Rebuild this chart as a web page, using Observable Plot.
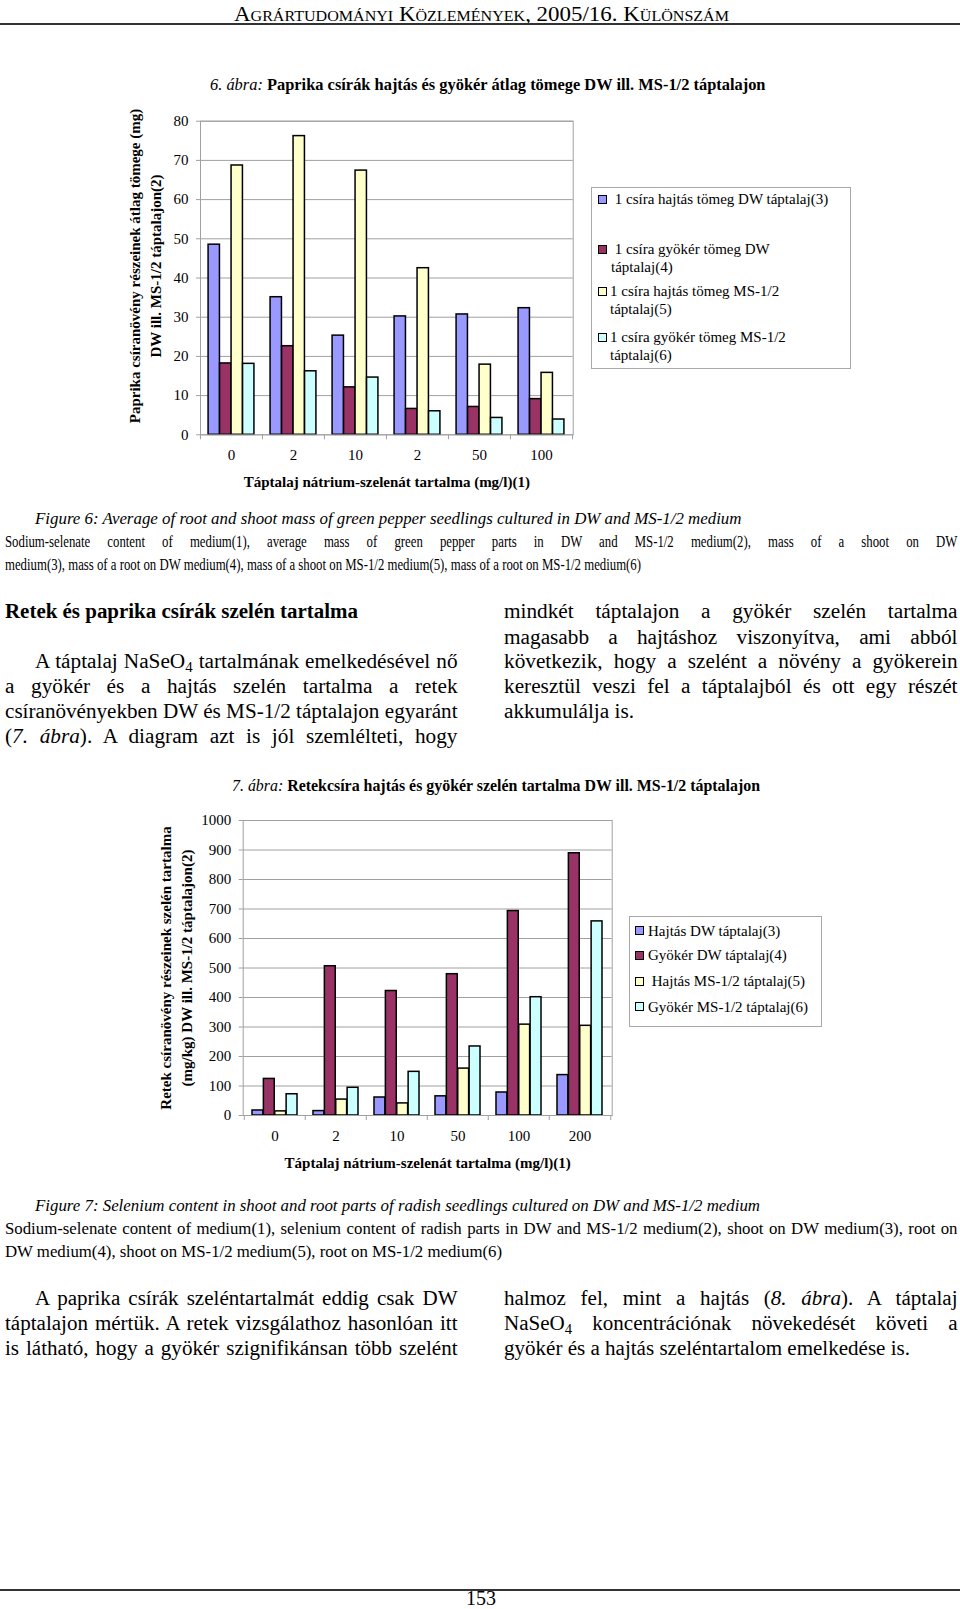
<!DOCTYPE html>
<html><head><meta charset="utf-8">
<script src="https://cdn.jsdelivr.net/npm/d3@7"></script>
<script src="https://cdn.jsdelivr.net/npm/@observablehq/plot@0.6"></script>
<style>
html,body{margin:0;padding:0;background:#fff;}
#page{position:relative;width:960px;height:1609px;overflow:hidden;background:#fff;font-family:"Liberation Serif","Times New Roman",serif;color:#000;}
.ln{position:absolute;white-space:nowrap;transform-origin:0 50%;}
.ln sub{font-size:0.7em;vertical-align:-0.25em;line-height:0;}
.rule{position:absolute;left:0;width:960px;background:#333;}
.legend{position:absolute;border:1px solid #a8a8a8;background:#fff;box-sizing:border-box;}
.sw{position:absolute;box-sizing:border-box;border:1.5px solid #000;}
.chart{position:absolute;}
</style></head><body><div id="page"></div>
<script>
// ---------- data ----------
const seriesColors = ["#9999ff", "#993366", "#ffffcc", "#ccffff"];

// Figure 6 (paprika, mg)
const cats6 = ["0", "2", "10", "2", "50", "100"];
const shootDW6 = [48.5, 35.1, 25.3, 30.2, 30.7, 32.3];
const rootDW6 = [18.2, 22.6, 12.1, 6.6, 7.1, 9.1];
const shootMS6 = [68.7, 76.2, 67.4, 42.5, 17.9, 15.8];
const rootMS6 = [18.1, 16.2, 14.6, 6.0, 4.3, 3.9];
const yTicks6 = [0, 10, 20, 30, 40, 50, 60, 70, 80];
const legend6 = [
  ["\u00a01 csíra hajtás tömeg DW táptalaj(3)"],
  ["\u00a01 csíra gyökér tömeg DW", "táptalaj(4)"],
  ["1 csíra hajtás tömeg MS-1/2", "táptalaj(5)"],
  ["1 csíra gyökér tömeg MS-1/2", "táptalaj(6)"]
];
const yTitle6 = ["Paprika csíranövény részeinek átlag tömege (mg)", "DW ill. MS-1/2 táptalajon(2)"];

// Figure 7 (retek, mg/kg)
const cats7 = ["0", "2", "10", "50", "100", "200"];
const shootDW7 = [17, 15, 61, 65, 78, 137];
const rootDW7 = [124, 506, 422, 479, 693, 889];
const shootMS7 = [14, 54, 41, 159, 308, 304];
const rootMS7 = [72, 94, 148, 234, 401, 658];
const yTicks7 = [0, 100, 200, 300, 400, 500, 600, 700, 800, 900, 1000];
const legend7 = [
  ["Hajtás DW táptalaj(3)"],
  ["Gyökér DW táptalaj(4)"],
  ["\u00a0Hajtás MS-1/2 táptalaj(5)"],
  ["Gyökér MS-1/2 táptalaj(6)"]
];
const yTitle7 = ["Retek csíranövény részeinek szelén tartalma", "(mg/kg) DW ill. MS-1/2 táptalajon(2)"];

const xTitle = "Táptalaj nátrium-szelenát tartalma (mg/l)(1)";

// ---------- helpers ----------
const page = document.getElementById("page");
function line(html, x0, x1, yc, opt = {}) {
  const fs = opt.size || 20;
  const lh = Math.round(fs * 1.2);
  const d = document.createElement("div");
  d.className = "ln";
  d.style.fontSize = fs + "px";
  d.style.lineHeight = lh + "px";
  if (opt.bold) d.style.fontWeight = "bold";
  if (opt.italic) d.style.fontStyle = "italic";
  if (opt.sc) d.style.fontVariant = "small-caps";
  d.innerHTML = html;
  page.appendChild(d);
  const w = d.getBoundingClientRect().width;
  let s = 1, left = x0;
  if (x1 != null) {
    const target = x1 - x0;
    if (opt.justify) {
      s = Math.min(opt.s || 1, target / w);
      d.style.whiteSpace = "normal";
      d.style.width = (target / s + 0.5) + "px";
      d.style.textAlign = "justify";
      d.style.textAlignLast = "justify";
    } else {
      s = target / w;
    }
  } else if (opt.center) {
    left = x0 - w / 2;
  }
  d.style.left = left + "px";
  d.style.top = (yc - lh / 2) + "px";
  d.style.transform = `scaleX(${s})`;
  return s;
}
function rule(y, h) {
  const r = document.createElement("div");
  r.className = "rule";
  r.style.top = y + "px";
  r.style.height = h + "px";
  page.appendChild(r);
}

function groupedBars({cats, values, yTicks, left, top, width, height, ml, mr, mt, mb, yTitle, titleDx, titleDy}) {
  const idx = d3.range(cats.length);
  const step = (width - ml - mr) / cats.length;
  const bw = step * 0.185;
  const marks = [Plot.gridY(yTicks, {stroke: "#a0a0a0", strokeOpacity: 1})];
  values.forEach((vals, i) => {
    const insetLeft = step / 2 + (i - values.length / 2) * bw;
    marks.push(Plot.barY(idx, {
      x: d => d, y: d => vals[d], fill: seriesColors[i],
      stroke: "#000", strokeWidth: 1.5,
      insetLeft, insetRight: step - insetLeft - bw
    }));
  });
  marks.push(
    Plot.frame({stroke: "#a0a0a0"}),
    Plot.axisY(yTicks, {tickSize: 4, tickPadding: 8, stroke: "#a0a0a0", fill: "#000", fontSize: 15, label: null, tickFormat: d => String(d)}),
    Plot.axisX(idx, {tickSize: 0, tickPadding: 15, tickFormat: i => cats[i], fill: "#000", fontSize: 15, label: null}),
    Plot.axisX(idx, {tickSize: 5, tickPadding: 0, tickFormat: () => "", dx: -step / 2, stroke: "#a0a0a0", label: null}),
    Plot.axisX([idx[idx.length - 1]], {tickSize: 5, tickPadding: 0, tickFormat: () => "", dx: step / 2, stroke: "#a0a0a0", label: null}),
    Plot.text([yTitle.join("\n")], {text: d => d, frameAnchor: "left", textAnchor: "middle", lineAnchor: "middle", dx: titleDx, dy: titleDy || 0, rotate: -90, fontWeight: "bold", fontSize: 15, lineHeight: 1.43}),
    Plot.text([xTitle], {text: d => d, frameAnchor: "bottom", dy: 52, fontWeight: "bold", fontSize: 15})
  );
  const svg = Plot.plot({
    width, height, marginLeft: ml, marginRight: mr, marginTop: mt, marginBottom: mb,
    x: {type: "band", domain: idx, padding: 0},
    y: {domain: [yTicks[0], yTicks[yTicks.length - 1]]},
    style: {fontFamily: "Liberation Serif", fontSize: "15px", background: "none", color: "#000", overflow: "visible"},
    marks
  });
  const wrap = document.createElement("div");
  wrap.className = "chart";
  wrap.style.left = left + "px";
  wrap.style.top = top + "px";
  wrap.appendChild(svg);
  page.appendChild(wrap);
}

function legend(box, items, sw, textX, rows, pitch) {
  const b = document.createElement("div");
  b.className = "legend";
  Object.assign(b.style, {left: box[0] + "px", top: box[1] + "px", width: (box[2] - box[0]) + "px", height: (box[3] - box[1]) + "px"});
  page.appendChild(b);
  items.forEach((lines, i) => {
    const s = document.createElement("div");
    s.className = "sw";
    Object.assign(s.style, {left: sw.x + "px", top: (rows[i] - sw.size / 2) + "px", width: sw.size + "px", height: sw.size + "px", background: seriesColors[i]});
    page.appendChild(s);
    lines.forEach((t, j) => line(t, textX[i], null, rows[i] + j * pitch, {size: 15}));
  });
}

// ---------- page ----------
line("Agrártudományi Közlemények, 2005/16. Különszám", 234, 729, 14, {size: 20, sc: true});
rule(23, 2);

line("<i>6. ábra:</i> <b>Paprika csírák hajtás és gyökér átlag tömege DW ill. MS-1/2 táptalajon</b>", 209.5, 765, 85, {size: 17});

groupedBars({
  cats: cats6, values: [shootDW6, rootDW6, shootMS6, rootMS6], yTicks: yTicks6,
  left: 0, top: 100, width: 580, height: 400, ml: 200, mr: 7.3, mt: 20.7, mb: 65.7,
  yTitle: yTitle6, titleDx: -57, titleDy: -12
});
legend([591, 186.5, 851, 369], legend6, {x: 598, size: 9}, [611, 611, 610, 610], [199, 249, 291, 337], 17.8);

line("Figure 6: Average of root and shoot mass of green pepper seedlings cultured in DW and MS-1/2 medium", 35, 741.5, 518.6, {size: 16, italic: true});
let sc = line("medium(3), mass of a root on DW medium(4), mass of a shoot on MS-1/2 medium(5), mass of a root on MS-1/2 medium(6)", 5, 641, 564, {size: 16});
line("Sodium-selenate content of medium(1), average mass of green pepper parts in DW and MS-1/2 medium(2), mass of a shoot on DW", 5, 957, 541, {size: 16, justify: true, s: sc});

line("Retek és paprika csírák szelén tartalma", 5, 358, 611, {size: 20, bold: true});
let sb = line("akkumulálja is.", 504, 634, 711, {size: 20});
line("A táptalaj NaSeO<sub>4</sub> tartalmának emelkedésével nő", 35, 457, 661, {size: 20, justify: true, s: sb});
line("a gyökér és a hajtás szelén tartalma a retek", 5, 457, 686, {size: 20, justify: true, s: sb});
line("csíranövényekben DW és MS-1/2 táptalajon egyaránt", 5, 457, 711, {size: 20, justify: true, s: sb});
line("(<i>7. ábra</i>). A diagram azt is jól szemlélteti, hogy", 5, 457, 736, {size: 20, justify: true, s: sb});
line("mindkét táptalajon a gyökér szelén tartalma", 504, 957, 611, {size: 20, justify: true, s: sb});
line("magasabb a hajtáshoz viszonyítva, ami abból", 504, 957, 637, {size: 20, justify: true, s: sb});
line("következik, hogy a szelént a növény a gyökerein", 504, 957, 661, {size: 20, justify: true, s: sb});
line("keresztül veszi fel a táptalajból és ott egy részét", 504, 957, 686, {size: 20, justify: true, s: sb});

line("<i>7. ábra:</i> <b>Retekcsíra hajtás és gyökér szelén tartalma DW ill. MS-1/2 táptalajon</b>", 232, 760, 786, {size: 17});

groupedBars({
  cats: cats7, values: [shootDW7, rootDW7, shootMS7, rootMS7], yTicks: yTicks7,
  left: 0, top: 800, width: 620, height: 380, ml: 242.7, mr: 8.3, mt: 20, mb: 65,
  yTitle: yTitle7, titleDx: -68.7
});
legend([629, 916, 822, 1027], legend7, {x: 635, size: 9}, [648, 648, 648, 648], [930.5, 955, 981, 1006.5], 0);

line("Figure 7: Selenium content in shoot and root parts of radish seedlings cultured on DW and MS-1/2 medium", 35, 760, 1205, {size: 16, italic: true});
let sc2 = line("DW medium(4), shoot on MS-1/2 medium(5), root on MS-1/2 medium(6)", 5, 502, 1251, {size: 16});
line("Sodium-selenate content of medium(1), selenium content of radish parts in DW and MS-1/2 medium(2), shoot on DW medium(3), root on", 5, 957, 1228, {size: 16, justify: true, s: sc2});

let sb2 = line("gyökér és a hajtás szeléntartalom emelkedése is.", 504, 910, 1348, {size: 20});
line("A paprika csírák szeléntartalmát eddig csak DW", 35, 457, 1298, {size: 20, justify: true, s: sb2});
line("táptalajon mértük. A retek vizsgálathoz hasonlóan itt", 5, 457, 1323, {size: 20, justify: true, s: sb2});
line("is látható, hogy a gyökér szignifikánsan több szelént", 5, 457, 1348, {size: 20, justify: true, s: sb2});
line("halmoz fel, mint a hajtás (<i>8. ábra</i>). A táptalaj", 504, 957, 1298, {size: 20, justify: true, s: sb2});
line("NaSeO<sub>4</sub> koncentrációnak növekedését követi a", 504, 957, 1323, {size: 20, justify: true, s: sb2});

rule(1589, 2);
line("153", 481, null, 1598, {size: 20, center: true});
</script>
</body></html>
